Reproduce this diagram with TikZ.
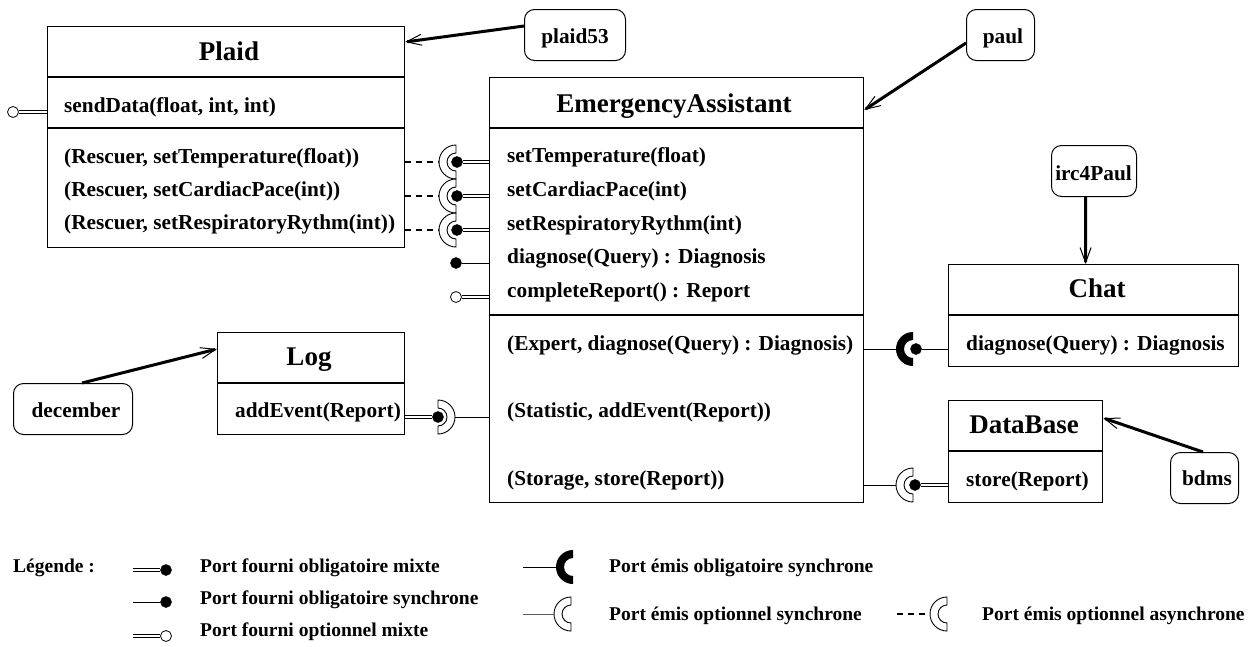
\documentclass[tikz,border=0pt]{standalone}
\usepackage{fontspec}
\setmainfont{Liberation Serif}
\usetikzlibrary{arrows.meta}

\tikzset{
  x=1pt, y=-1pt,
  cls/.style={draw, line width=1.2pt, inner sep=0, anchor=north west, rectangle},
  inst/.style={draw, line width=1pt, rounded corners=10pt, inner sep=0, anchor=north west, rectangle},
  ttl/.style={anchor=base, inner sep=0, font=\fontsize{27}{30}\selectfont\bfseries},
  row/.style={anchor=base west, inner sep=0, font=\fontsize{21.3}{24}\selectfont\bfseries},
  lbl/.style={anchor=base, inner sep=0, font=\fontsize{21.3}{24}\selectfont\bfseries},
  leg/.style={anchor=base west, inner sep=0, font=\fontsize{19.5}{22}\selectfont\bfseries},
  ball/.style={circle, fill=black, draw=black, line width=0.5pt, minimum size=11pt, inner sep=0},
  hollow/.style={circle, fill=white, draw=black, line width=0.8pt, minimum size=11pt, inner sep=0},
  sockpt/.style={circle, minimum size=34pt, inner sep=0},
  mixed/.style={double=white, double distance=2pt, line width=0.8pt},
  sync/.style={line width=1pt},
  async/.style={line width=1.2pt, dash pattern=on 6pt off 5pt},
  link/.style={line width=3pt, -{Straight Barb[length=15pt,width=11pt,line width=1pt]}},
  sep/.style={line width=1.2pt},
  sockopen/.style={draw, fill=white, line width=0.9pt},
  sockfull/.style={fill=black},
  % half ring whose arc faces west, opening east
  pics/sockw/.style={code={\path[pic actions] (0,-17) arc[start angle=270,end angle=90,radius=17]
      -- (0,9) arc[start angle=90,end angle=270,radius=9] -- cycle;}},
  % half ring whose arc faces east, opening west
  pics/socke/.style={code={\path[pic actions] (0,-17) arc[start angle=-90,end angle=90,radius=17]
      -- (0,9) arc[start angle=90,end angle=-90,radius=9] -- cycle;}},
}

\begin{document}
\begin{tikzpicture}
\useasboundingbox (0,0) rectangle (1254,646);

% ---------- Plaid ----------
\node[cls, minimum width=357pt, minimum height=221pt] (plaid) at (47,26) {};
\draw[sep] ([yshift=-51pt]plaid.north west) -- ([yshift=-51pt]plaid.north east);
\draw[sep] ([yshift=-102pt]plaid.north west) -- ([yshift=-102pt]plaid.north east);
\node[ttl] (plaidT) at (229,60) {Plaid};
\node[row] (plaidR0) at (64,112) {sendData(float, int, int)};
\node[row] (plaidR1) at (64,163) {(Rescuer, setTemperature(float))};
\node[row] (plaidR2) at (64,196) {(Rescuer, setCardiacPace(int))};
\node[row] (plaidR3) at (64,229) {(Rescuer, setRespiratoryRythm(int))};

% ---------- EmergencyAssistant ----------
\node[cls, minimum width=374pt, minimum height=425pt] (ea) at (489,77) {};
\draw[sep] ([yshift=-51pt]ea.north west) -- ([yshift=-51pt]ea.north east);
\draw[sep] ([yshift=-238pt]ea.north west) -- ([yshift=-238pt]ea.north east);
\node[ttl] (eaT) at (674,112) {EmergencyAssistant};
\node[row] (eaR1) at (507,162) {setTemperature(float)};
\node[row] (eaR2) at (507,196) {setCardiacPace(int)};
\node[row] (eaR3) at (507,230) {setRespiratoryRythm(int)};
\node[row] (eaR4) at (507,263) {diagnose(Query) : Diagnosis};
\node[row] (eaR5) at (507,297) {completeReport() : Report};
\node[row] (eaR6) at (507,350) {(Expert, diagnose(Query) : Diagnosis)};
\node[row] (eaR7) at (507,417) {(Statistic, addEvent(Report))};
\node[row] (eaR8) at (507,485) {(Storage, store(Report))};

% ---------- Chat ----------
\node[cls, minimum width=290pt, minimum height=102pt] (chat) at (948,264) {};
\draw[sep] ([yshift=-51pt]chat.north west) -- ([yshift=-51pt]chat.north east);
\node[ttl] (chatT) at (1097,297) {Chat};
\node[row] (chatR1) at (966,350) {diagnose(Query) : Diagnosis};

% ---------- Log ----------
\node[cls, minimum width=187pt, minimum height=102pt] (log) at (217,332) {};
\draw[sep] ([yshift=-51pt]log.north west) -- ([yshift=-51pt]log.north east);
\node[ttl] (logT) at (309,365) {Log};
\node[row] (logR1) at (235,417) {addEvent(Report)};

% ---------- DataBase ----------
\node[cls, minimum width=154pt, minimum height=102pt] (db) at (948,400) {};
\draw[sep] ([yshift=-51pt]db.north west) -- ([yshift=-51pt]db.north east);
\node[ttl] (dbT) at (1024,433) {DataBase};
\node[row] (dbR1) at (966,486) {store(Report)};

% ---------- instances ----------
\node[inst, minimum width=101pt, minimum height=51pt] (plaid53) at (524,9) {};
\node[lbl] at (575,43) {plaid53};
\node[inst, minimum width=68pt, minimum height=51pt] (paul) at (966,9) {};
\node[lbl] at (1003,43) {paul};
\node[inst, minimum width=85pt, minimum height=51pt] (irc) at (1051,145) {};
\node[lbl] at (1093.5,180) {irc4Paul};
\node[inst, minimum width=119pt, minimum height=51pt] (dec) at (13,383) {};
\node[lbl] at (76,417) {december};
\node[inst, minimum width=68pt, minimum height=51pt] (bdms) at (1170,452) {};
\node[lbl] at (1207,485) {bdms};

\draw[link] ([yshift=-17pt]plaid53.north west) -- ([yshift=-16pt]plaid.north east);
\draw[link] ([yshift=-34pt]paul.north west) -- ([yshift=-33pt]ea.north east);
\draw[link] ([xshift=-8.5pt]irc.south) -- ([xshift=-8pt]chat.north);
\draw[link] ([xshift=69pt]dec.north west) -- ([yshift=-17pt]log.north west);
\draw[link] ([xshift=33pt]bdms.north west) -- ([yshift=-18pt]db.north east);

% ---------- ports ----------
\node[hollow] (pSend) at (13,112) {};
\draw[mixed] (pSend) -- (plaid.west |- pSend);

\foreach \n/\yy in {T/162, C/196, R/230}{
  \node[sockpt] (s\n) at (456,\yy) {};
  \pic[sockopen] at (s\n) {sockw};
  \draw[async] (plaid.east |- s\n) -- (s\n.west);
  \node[ball] (b\n) at (457,\yy) {};
  \draw[mixed] (b\n) -- (ea.west |- b\n);
}

\node[ball] (bDiag) at (456,263) {};
\draw[sync] (bDiag) -- (ea.west |- bDiag);
\node[hollow] (bRep) at (456,297) {};
\draw[mixed] (bRep) -- (ea.west |- bRep);

\node[sockpt] (sLog) at (438,417) {};
\pic[sockopen] at (sLog) {socke};
\node[ball] (bLog) at (438,417) {};
\draw[mixed] (log.east |- bLog) -- (bLog);
\draw[sync] (sLog.east) -- (ea.west |- sLog);

\node[sockpt] (sChat) at (913,349) {};
\pic[sockfull] at (sChat) {sockw};
\node[ball] (bChat) at (916,349) {};
\draw[sync] (ea.east |- sChat) -- (sChat.west);
\draw[sync] (bChat) -- (chat.west |- bChat);

\node[sockpt] (sDb) at (913,485) {};
\pic[sockopen] at (sDb) {sockw};
\node[ball] (bDb) at (915,485) {};
\draw[sync] (ea.east |- sDb) -- (sDb.west);
\draw[mixed] (bDb) -- (db.west |- bDb);

% ---------- legend ----------
\node[leg] (legT) at (13,572) {Légende :};

\coordinate (lg1a) at (133,570);
\node[ball] (lg1b) at (166,570) {};
\draw[mixed] (lg1a) -- (lg1b);
\node[leg] (lg1t) at (200,572) {Port fourni obligatoire mixte};

\coordinate (lg2a) at (133,602);
\node[ball] (lg2b) at (166,602) {};
\draw[sync] (lg2a) -- (lg2b);
\node[leg] (lg2t) at (200,604) {Port fourni obligatoire synchrone};

\coordinate (lg3a) at (133,636);
\node[hollow] (lg3b) at (166,636) {};
\draw[mixed] (lg3a) -- (lg3b);
\node[leg] (lg3t) at (200,636) {Port fourni optionnel mixte};

\coordinate (lg4a) at (523,567);
\node[sockpt] (lg4s) at (573,567) {};
\pic[sockfull] at (lg4s) {sockw};
\draw[sync] (lg4a) -- (lg4s.west);
\node[leg] (lg4t) at (609,572) {Port émis obligatoire synchrone};

\coordinate (lg5a) at (523,614);
\node[sockpt] (lg5s) at (571,614) {};
\pic[sockopen] at (lg5s) {sockw};
\draw[sync, black!65] (lg5a) -- (lg5s.west);
\node[leg] (lg5t) at (609,620) {Port émis optionnel synchrone};

\coordinate (lg6a) at (897,614);
\node[sockpt] (lg6s) at (947,614) {};
\pic[sockopen] at (lg6s) {sockw};
\draw[async] (lg6a) -- (lg6s.west);
\node[leg] (lg6t) at (982,620) {Port émis optionnel asynchrone};
\end{tikzpicture}
\end{document}
